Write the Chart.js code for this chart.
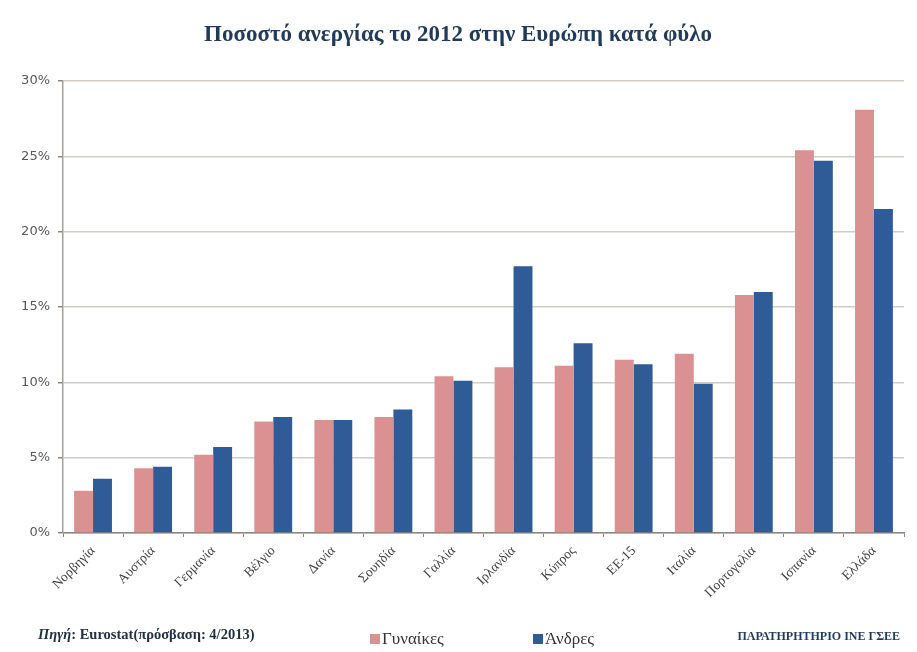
<!DOCTYPE html>
<html lang="el">
<head>
<meta charset="utf-8">
<title>Ποσοστό ανεργίας το 2012 στην Ευρώπη κατά φύλο</title>
<script src="https://cdn.jsdelivr.net/npm/chart.js@4/dist/chart.umd.min.js"></script>
<style>
    html, body { margin: 0; padding: 0; background: #fff; }
    #wrap { width: 917px; height: 652px; position: relative; }
</style>
</head>
<body>
<div id="wrap"><canvas id="chart"></canvas></div>
<script>
const TITLE = 'Ποσοστό ανεργίας το 2012 στην Ευρώπη κατά φύλο';
const countries = ['Νορβηγία', 'Αυστρία', 'Γερμανία', 'Βέλγιο', 'Δανία', 'Σουηδία', 'Γαλλία',
    'Ιρλανδία', 'Κύπρος', 'ΕΕ-15', 'Ιταλία', 'Πορτογαλία', 'Ισπανία', 'Ελλάδα'];
const women = [2.8, 4.3, 5.2, 7.4, 7.5, 7.7, 10.4, 11.0, 11.1, 11.5, 11.9, 15.8, 25.4, 28.1];
const men = [3.6, 4.4, 5.7, 7.7, 7.5, 8.2, 10.1, 17.7, 12.6, 11.2, 9.9, 16.0, 24.7, 21.5];
const yTicks = [0, 5, 10, 15, 20, 25, 30];

const PINK = '#db9192';
const BLUE = '#2f5b97';
const SERIF = '"Liberation Serif", "DejaVu Serif", serif';

// title, legend and footer notes are painted straight onto the canvas
const decorations = {
    id: 'decorations',
    afterDraw(chart) {
        const ctx = chart.ctx;
        ctx.save();
        ctx.textBaseline = 'alphabetic';

        ctx.fillStyle = '#1f3a5a';
        ctx.font = 'bold 23px ' + SERIF;
        ctx.textAlign = 'center';
        ctx.fillText(TITLE, 458, 41);

        // legend
        ctx.textAlign = 'left';
        ctx.font = '17px ' + SERIF;
        const items = [
            { x: 370, color: PINK, label: chart.data.datasets[0].label },
            { x: 533, color: BLUE, label: chart.data.datasets[1].label }
        ];
        items.forEach(it => {
            ctx.fillStyle = it.color;
            ctx.fillRect(it.x, 634, 10, 10);
            ctx.fillStyle = '#333';
            ctx.fillText(it.label, it.x + 12, 644);
        });

        // source note
        ctx.fillStyle = '#1f2f45';
        ctx.font = 'bold italic 14.5px ' + SERIF;
        ctx.fillText('Πηγή', 38, 639);
        const w = ctx.measureText('Πηγή').width;
        ctx.font = 'bold 14.5px ' + SERIF;
        ctx.fillText(': Eurostat(πρόσβαση: 4/2013)', 38 + w, 639);

        ctx.fillStyle = '#1f3a5a';
        ctx.font = 'bold 12px ' + SERIF;
        ctx.textAlign = 'right';
        ctx.fillText('ΠΑΡΑΤΗΡΗΤΗΡΙΟ ΙΝΕ ΓΣΕΕ', 900, 640);
        ctx.restore();
    }
};

new Chart(document.getElementById('chart'), {
    type: 'bar',
    data: {
        labels: countries,
        datasets: [
            { label: 'Γυναίκες', data: women, backgroundColor: PINK },
            { label: 'Άνδρες', data: men, backgroundColor: BLUE }
        ]
    },
    options: {
        responsive: true,
        maintainAspectRatio: false,
        animation: false,
        datasets: { bar: { categoryPercentage: 0.63, barPercentage: 1 } },
        layout: { padding: { top: 81, right: 13, left: 0, bottom: 0 } },
        plugins: {
            legend: { display: false },
            title: { display: false },
            tooltip: { enabled: false }
        },
        scales: {
            x: {
                afterFit: (scale) => { scale.height = 652 - 533; },
                grid: {
                    display: true,
                    drawOnChartArea: false,
                    offset: true,
                    tickLength: 4,
                    color: '#8c8680'
                },
                border: { color: '#8c8680', width: 1.5 },
                ticks: {
                    maxRotation: 45,
                    minRotation: 45,
                    padding: 6,
                    color: '#404040',
                    font: { family: SERIF, size: 13.5 }
                }
            },
            y: {
                min: 0,
                max: 30,
                afterFit: (scale) => { scale.width = 63; },
                afterBuildTicks: (scale) => { scale.ticks = yTicks.map(v => ({ value: v })); },
                grid: {
                    color: '#d4ccc4',
                    lineWidth: 1.5,
                    tickLength: 5,
                    tickColor: '#8c8680'
                },
                border: { color: '#a8a098', width: 1.5 },
                ticks: {
                    padding: 8,
                    color: '#595959',
                    font: { family: '"DejaVu Sans", sans-serif', size: 13 },
                    callback: (v) => v + '%'
                }
            }
        }
    },
    plugins: [decorations]
});
</script>
</body>
</html>
